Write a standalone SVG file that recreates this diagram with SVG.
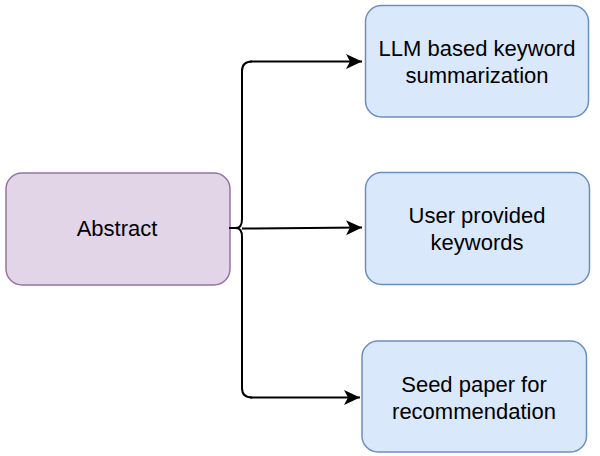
<svg xmlns="http://www.w3.org/2000/svg" width="600" height="456" viewBox="0 0 600 456">
<style>
.src{fill:#e1d5e7;stroke:#9673a6;stroke-width:1.5}
.dst{fill:#dae8fc;stroke:#6c8ebf;stroke-width:1.5}
.t{font-family:"Liberation Sans",Arial,sans-serif;font-size:22px;fill:#000;text-anchor:middle}
.c{fill:none;stroke:#000;stroke-width:2}
</style>
<defs>
<marker id="arr" viewBox="0 0 16 16" refX="16" refY="8" markerWidth="16" markerHeight="16" markerUnits="userSpaceOnUse" orient="auto">
<path d="M0,0.5 L16,8 L0,15.5 L4,8 Z" fill="#000"/>
</marker>
</defs>
<g id="abstract">
<rect class="src" x="6" y="173" width="224" height="112" rx="16"/>
<text class="t" x="117" y="236">Abstract</text>
</g>
<g id="llm">
<rect class="dst" x="365.5" y="5.5" width="223" height="111.5" rx="16"/>
<text class="t" x="477" y="56">LLM based keyword</text>
<text class="t" x="477" y="83">summarization</text>
</g>
<g id="user">
<rect class="dst" x="365.5" y="172.5" width="224" height="112" rx="16"/>
<text class="t" x="477" y="223">User provided</text>
<text class="t" x="477" y="250">keywords</text>
</g>
<g id="seed">
<rect class="dst" x="362" y="341" width="224.5" height="111" rx="16"/>
<text class="t" x="474" y="392">Seed paper for</text>
<text class="t" x="474" y="419">recommendation</text>
</g>
<g id="connectors">
<path class="c" d="M229,228 L236,228"/>
<path class="c" d="M252,61.5 Q242,61.5 242,71 L242,219 Q242,228 236,228 Q242,228 242,237 L242,388 Q242,397.5 252,397.5"/>
<path class="c" d="M250,61.5 L362,61.5" marker-end="url(#arr)"/>
<path class="c" d="M242,228.5 L362,227.5" marker-end="url(#arr)"/>
<path class="c" d="M250,397.5 L360,397.5" marker-end="url(#arr)"/>
</g>
</svg>
